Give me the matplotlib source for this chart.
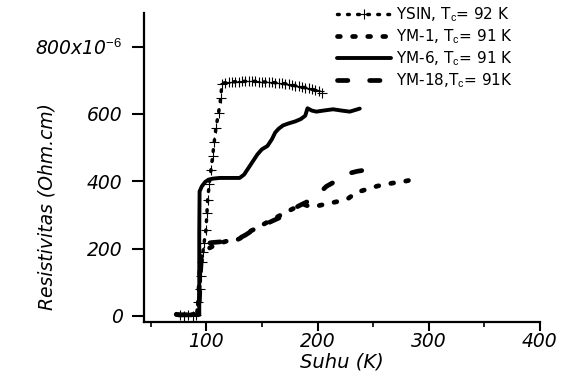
import matplotlib
matplotlib.use("Agg")
import matplotlib.pyplot as plt

plt.rcParams.update({
    "font.family": "DejaVu Sans",
    "mathtext.fontset": "custom",
    "mathtext.rm": "Liberation Sans",
    "mathtext.it": "DejaVu Sans:italic",
    "mathtext.sf": "DejaVu Sans:italic",
})

# ---- data (resistivity in units of 1e-6 Ohm.cm, temperature in K) ----
ysin_T = [76, 80, 84, 88, 91, 93, 94, 95, 96, 97, 98, 99.7, 100.6, 101.2, 102.7,
          104.2, 105.7, 107.2, 108.7, 111, 113, 114, 117, 120, 123, 126, 129, 132,
          135, 138, 141, 144, 147, 150, 153, 156, 159, 162, 165, 168, 171, 174,
          177, 180, 183, 186, 189, 192, 195, 198, 201, 204]
ysin_R = [2, 1, 2, 1, 3, 40, 80, 120, 160, 190, 217, 256, 306, 345, 392,
          434, 474, 518, 559, 603, 647, 690, 693, 694, 695, 696, 696, 697,
          697, 698, 697, 697, 696, 696, 695, 695, 694, 693, 692, 691, 690, 688,
          686, 684, 682, 680, 678, 676, 673, 670, 667, 663]

ym1_T = [73, 77, 81, 85, 89, 92, 93, 93.5, 94, 94.5, 95, 96, 98, 100, 104, 109,
         114, 120, 127, 133, 139, 146, 154, 161, 167, 174, 180, 184, 188, 193,
         200, 207, 214, 221, 228, 235, 242, 248, 254, 261, 268, 277, 284, 287, 288]
ym1_R = [5, 3, 4, 3, 5, 8, 40, 80, 120, 150, 170, 182, 190, 196, 204, 212,
         218, 224, 225, 235, 251, 262, 277, 289, 300, 312, 322, 330, 331, 325,
         327, 332, 337, 342, 350, 367, 374, 380, 386, 391, 395, 399, 404, 412, 424]

ym6_T = [73, 80, 87, 92, 93.7, 93.7, 93.7, 94, 96, 99, 102, 106, 112, 120, 127,
         130, 134, 138, 142, 146, 150, 155, 159, 162, 165, 169, 174, 180, 185,
         189, 191, 195, 199, 205, 214, 222, 229, 234, 238]
ym6_R = [3, 2, 3, 3, 3, 100, 250, 370, 385, 398, 405, 408, 410, 410, 410,
         410, 420, 440, 460, 480, 495, 505, 525, 545, 556, 566, 572, 578, 585,
         595, 617, 610, 607, 610, 614, 610, 607, 612, 616]

ym18_T = [75, 80, 85, 90, 93, 94, 95, 96, 99, 105, 112, 120, 128, 135, 142,
          150, 158, 166, 172, 178, 185, 190, 200, 208, 215, 222, 230, 236, 240]
ym18_R = [3, 4, 3, 4, 6, 60, 140, 200, 215, 218, 220, 222, 228, 240, 255,
          268, 280, 292, 305, 318, 330, 338, 360, 385, 398, 410, 425, 430, 432]

fig = plt.figure(figsize=(5.7, 3.85), dpi=100)
ax = fig.add_axes([0.2526, 0.1636, 0.6947, 0.8026])

ax.plot(ysin_T, ysin_R, color="black", lw=2.5, ls=(0, (0.5, 2.4)),
        dash_capstyle="round", marker="+", ms=7, mew=0.8,
        label=r"YSIN, T$_{\mathrm{c}}$= 92 K")
ax.plot(ym1_T, ym1_R, color="black", lw=3.4, ls=(0, (0.6, 2.6)),
        dash_capstyle="round", label=r"YM-1, T$_{\mathrm{c}}$= 91 K")
ax.plot(ym6_T, ym6_R, color="black", lw=2.8, solid_capstyle="round",
        label=r"YM-6, T$_{\mathrm{c}}$= 91 K")
ax.plot(ym18_T, ym18_R, color="black", lw=3.4, ls=(0, (2.2, 4.6)),
        dash_capstyle="round", label=r"YM-18,T$_{\mathrm{c}}$= 91K")

ax.set_xlim(44, 400)
ax.set_ylim(-18, 900)
ax.set_xticks([100, 200, 300, 400])
ax.set_xticks([50, 150, 250, 350], minor=True)
ax.set_yticks([0, 200, 400, 600, 800])
ax.set_yticklabels(["0", "200", "400", "600", r"800x10$^{\mathit{-6}}$"])
for lab in ax.get_xticklabels() + ax.get_yticklabels():
    lab.set_fontstyle("italic")
    lab.set_fontsize(13.5)

for s in ["top", "right"]:
    ax.spines[s].set_visible(False)
for s in ["left", "bottom"]:
    ax.spines[s].set_linewidth(1.6)

ax.tick_params(axis="y", direction="out", length=8.5, width=1.5, pad=7)
ax.tick_params(axis="x", which="major", direction="out", length=6.5, width=1.5, pad=1)
ax.tick_params(axis="x", which="minor", direction="out", length=3.5, width=1.2)

ax.set_xlabel("Suhu (K)", fontsize=14, fontstyle="italic", labelpad=1)
ax.set_ylabel("Resistivitas (Ohm.cm)", fontsize=13.5, fontstyle="italic")
ax.yaxis.set_label_coords(-0.22, 0.375)

ax.legend(loc="upper left", bbox_to_anchor=(0.592, 0.985), bbox_transform=fig.transFigure,
          frameon=False, handlelength=3.5, handletextpad=0.35, borderpad=0,
          borderaxespad=0, labelspacing=0.2,
          prop={"family": "DejaVu Sans", "size": 11})

fig.savefig("out.png", dpi=100, facecolor="white")
